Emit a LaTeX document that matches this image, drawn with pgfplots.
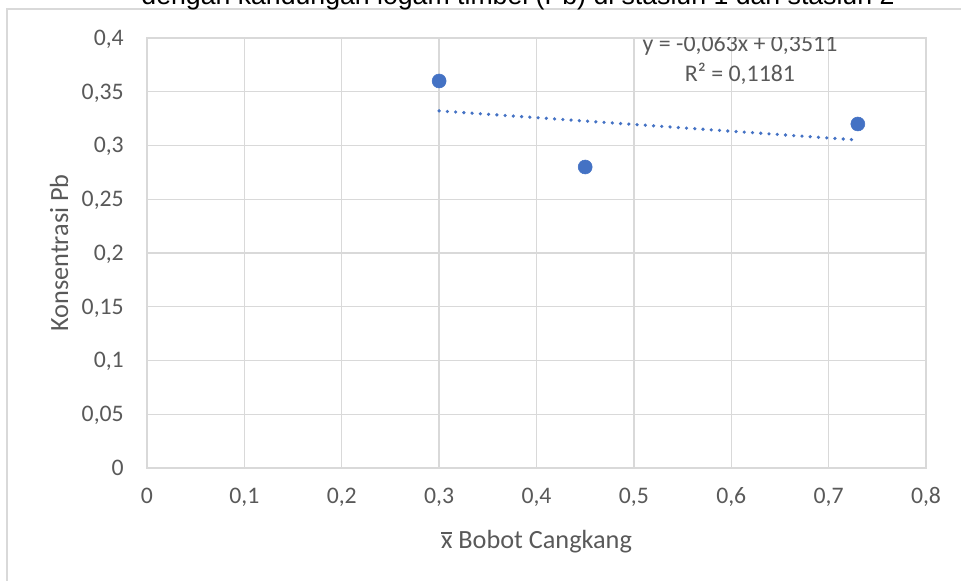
\documentclass[border=0pt]{standalone}
\usepackage{fontspec}
\setmainfont{Carlito}
\newfontfamily\arialfont{Liberation Sans}
\usepackage{pgfplots}
\pgfplotsset{compat=1.18}
\definecolor{gridc}{HTML}{D9D9D9}
\definecolor{txtc}{HTML}{595959}
\definecolor{ptc}{HTML}{4472C4}
\newcommand{\xbar}{\makebox[0pt][l]{\rule[0.56em]{0.43em}{0.055em}}x}
\begin{document}
\begin{tikzpicture}[x=0.75pt,y=0.75pt]
\draw[gridc, line width=1.1pt] (7,-20) -- (7,572) -- (980,572);
\node[font=\arialfont\fontsize{20}{24}\selectfont, anchor=base, text=black, inner sep=0pt] at (518,576) {dengan kandungan logam timbel (Pb) di stasiun 1 dan stasiun 2};
\begin{axis}[
  at={(110.25pt,84.75pt)}, anchor=south west,
  scale only axis, width=584.25pt, height=322.5pt,
  xmin=0, xmax=0.8, ymin=0, ymax=0.4,
  xtick={0,0.1,0.2,0.3,0.4,0.5,0.6,0.7,0.8},
  ytick={0,0.05,0.1,0.15,0.2,0.25,0.3,0.35,0.4},
  grid=major, major grid style={gridc, line width=1.1pt},
  axis line style={gridc, line width=1.1pt},
  major tick length=0pt, tick style={draw=none},
  /pgf/number format/use comma,
  /pgf/number format/fixed,
  /pgf/number format/precision=2,
  /pgf/number format/assume math mode=true,
  ticklabel style={font=\fontsize{17.8}{21}\selectfont, text=txtc},
  xticklabel style={anchor=base, inner sep=0pt, yshift=-26.6pt},
  yticklabel style={anchor=base east, inner sep=0pt, xshift=-17.25pt, yshift=-5.6pt},
  xlabel={\xbar{} Bobot Cangkang}, ylabel={Konsentrasi Pb},
  label style={font=\fontsize{19.7}{23}\selectfont, text=txtc},
  xlabel style={at={(axis description cs:0.5,-0.1872)}, anchor=base, inner sep=0pt},
  ylabel style={at={(axis description cs:-0.1014,0.5)}, anchor=base, inner sep=0pt},
]
\addplot[only marks, mark=*, mark size=5.25pt, mark options={fill=ptc, draw=ptc}] coordinates {(0.3,0.36) (0.45,0.28) (0.73,0.32)};
\addplot[ptc, line width=2.7pt, line cap=round, dash pattern=on 0pt off 6.2pt, no marks] coordinates {(0.3,0.3322) (0.725,0.3054)};
\node[font=\fontsize{17.9}{22.5}\selectfont, text=txtc, align=center, inner sep=0pt] at (axis cs:0.609,0.3795) {y = -0,063x + 0,3511\\R² = 0,1181};
\end{axis}
\pgfresetboundingbox
\useasboundingbox (0,0) rectangle (961,581);
\end{tikzpicture}
\end{document}
